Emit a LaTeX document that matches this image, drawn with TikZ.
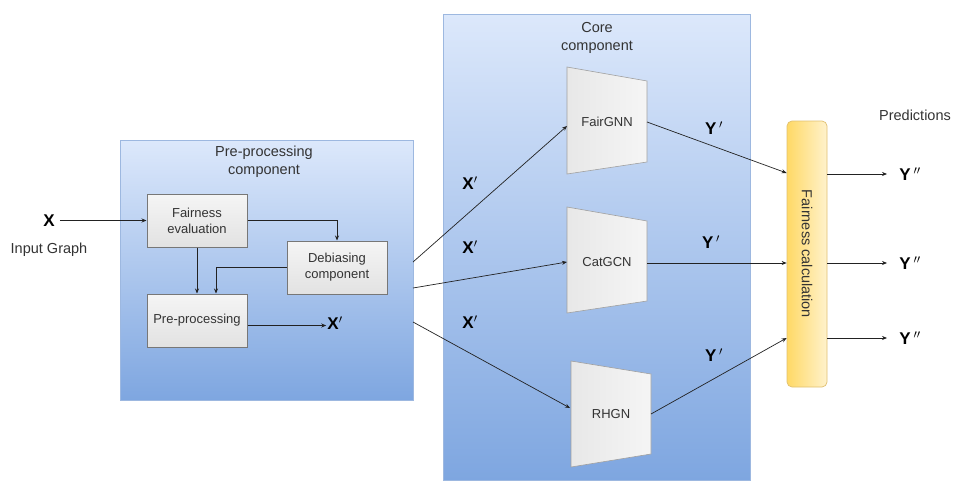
\documentclass[tikz,border=0pt]{standalone}
\usepackage{fontspec}
\setmainfont{Liberation Sans}
\usetikzlibrary{arrows.meta}
\definecolor{blueTop}{HTML}{DCE8FB}
\definecolor{blueBot}{HTML}{7EA6E0}
\definecolor{contBorder}{HTML}{9DB8E0}
\definecolor{gray1}{HTML}{F5F5F5}
\definecolor{gray2}{HTML}{E2E2E2}
\definecolor{boxBorder}{HTML}{777777}
\definecolor{trapBorder}{HTML}{A0A0A0}
\definecolor{lineCol}{HTML}{222222}
\definecolor{textCol}{HTML}{333333}
\definecolor{yelA}{HTML}{FFD966}
\definecolor{yelB}{HTML}{FFF2CC}
\definecolor{yelBorder}{HTML}{E0C070}
\begin{document}
\begin{tikzpicture}[x=1pt,y=-1pt]
\tikzset{
 cont/.style={draw=contBorder, line width=0.7pt, top color=blueTop, bottom color=blueBot, inner sep=0pt, anchor=north west},
 pbox/.style={draw=boxBorder, line width=1pt, top color=gray1, bottom color=gray2, minimum width=100pt, minimum height=53pt, align=center, font=\fontsize{13}{16}\selectfont, text=textCol, inner sep=2pt},
 trap/.style={draw=trapBorder, line width=0.6pt, left color=gray2!80, right color=gray1},
 conn/.style={draw=lineCol, line width=0.7pt, -{Stealth[length=5pt,width=4pt]}},
 lbl/.style={font=\fontsize{17}{20}\selectfont\bfseries, text=black, inner sep=1pt},
 txt/.style={font=\fontsize{14.5}{17}\selectfont, align=center, text=textCol, inner sep=1pt},
 mtxt/.style={font=\fontsize{13}{16}\selectfont, align=center, text=textCol, inner sep=1pt},
 ttl/.style={font=\fontsize{14.5}{18}\selectfont, align=center, text=textCol, inner sep=1pt},
}
\useasboundingbox (0,0) rectangle (953,482);

% containers
\node[cont, minimum width=293pt, minimum height=260pt] (pre) at (120,140) {};
\node[cont, minimum width=307pt, minimum height=466pt] (core) at (443,14) {};
\node[ttl] (pretitle) at (264,162) {Pre-processing\\component};
\node[ttl] (coretitle) at (597,38) {Core\\component};

% pre-processing boxes
\node[pbox] (fe) at (197,220.5) {Fairness\\evaluation};
\node[pbox] (db) at (337,267.5) {Debiasing\\component};
\node[pbox] (pp) at (197,320.5) {Pre-processing};

\node[lbl] (x) at (49,221) {X};
\node[txt] (ig) at (49,250) {Input Graph};
\node[lbl] (xp0) at (335,323) {X$'$};

\draw[conn] ([xshift=4pt]fe.west -| x.east) -- (fe.west);
\draw[conn] (fe.east) -| (db.north);
\draw[conn] (fe.south) -- (pp.north);
\draw[conn] (db.west) -| ([xshift=19pt]pp.north);
\draw[conn] ([yshift=-5pt]pp.east) -- ([yshift=-5pt]pp.east -| xp0.west);

% trapezoids
\coordinate (a1) at (567,67); \coordinate (a2) at (647,81); \coordinate (a3) at (647,162); \coordinate (a4) at (567,174);
\coordinate (b1) at (567,207); \coordinate (b2) at (647,221); \coordinate (b3) at (647,301); \coordinate (b4) at (567,313);
\coordinate (c1) at (571,361); \coordinate (c2) at (651,374); \coordinate (c3) at (651,454); \coordinate (c4) at (571,467);
\path[trap] (a1) -- (a2) -- (a3) -- (a4) -- cycle;
\path[trap] (b1) -- (b2) -- (b3) -- (b4) -- cycle;
\path[trap] (c1) -- (c2) -- (c3) -- (c4) -- cycle;
\node[mtxt] (g1) at (607,122) {FairGNN};
\node[mtxt] (g2) at (607,262) {CatGCN};
\node[mtxt] (g3) at (611,414) {RHGN};
\coordinate (g1in) at (567,126);
\coordinate (g2in) at (567,262);
\coordinate (g3in) at (570,408);
\coordinate (g1out) at (647,122);
\coordinate (g2out) at (647,263);
\coordinate (g3out) at (651,414);

% from pre container to core models
\coordinate (s1) at (413,262);
\coordinate (s2) at (413,288);
\coordinate (s3) at (413,322);
\draw[conn] (s1) -- (g1in);
\draw[conn] (s2) -- (g2in);
\draw[conn] (s3) -- (g3in);
\node[lbl] (xp1) at (470,183) {X$'$};
\node[lbl] (xp2) at (470,247) {X$'$};
\node[lbl] (xp3) at (470,322) {X$'$};

% fairness calculation
\node[draw=yelBorder, line width=0.7pt, rounded corners=5pt, left color=yelA, right color=yelB, minimum width=40pt, minimum height=266pt, inner sep=0pt] (fc) at (807,254) {};
\node[txt, rotate=-90, font=\fontsize{14.5}{17}\selectfont] (fctext) at (fc.center) {Fairness calculation};

\draw[conn] (g1out) -- ([yshift=81pt]fc.west);
\draw[conn] (g2out) -- ([yshift=-9pt]fc.west);
\draw[conn] (g3out) -- ([yshift=-84pt]fc.west);
\node[lbl] (yp1) at (714,128) {Y\,$'$};
\node[lbl] (yp2) at (711,242) {Y\,$'$};
\node[lbl] (yp3) at (714,355) {Y\,$'$};

\node[lbl] (y1) at (910,174) {Y\,$''$};
\node[lbl] (y2) at (910,263) {Y\,$''$};
\node[lbl] (y3) at (910,338) {Y\,$''$};
\draw[conn] ([yshift=80pt]fc.east) -- (y1.west -| 887,0);
\draw[conn] ([yshift=-9pt]fc.east) -- (y2.west -| 887,0);
\draw[conn] ([yshift=-84pt]fc.east) -- (y3.west -| 887,0);
\node[txt] (pred) at (915,115) {Predictions};
\end{tikzpicture}
\end{document}
